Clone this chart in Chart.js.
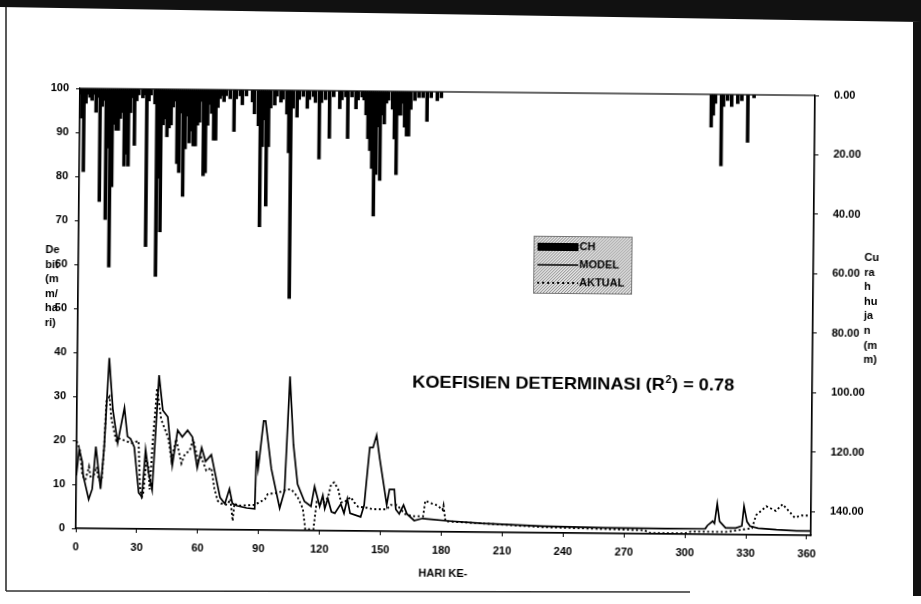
<!DOCTYPE html>
<html><head><meta charset="utf-8">
<script src="https://cdn.jsdelivr.net/npm/chart.js@4.4.1/dist/chart.umd.min.js"></script>
<style>
html,body{margin:0;padding:0;background:#fff}
#wrap{position:relative;width:921px;height:604px;overflow:hidden;background:#fff}
#c{position:absolute;left:0;top:0;transform:rotate(0.55deg)}
#frame{position:absolute;left:0;top:0}
</style></head><body>
<div id="wrap">
<canvas id="c" width="921" height="604"></canvas>
<svg id="frame" width="921" height="604">
  <polygon points="0,0 921,0 921,22 0,7" fill="#111"/>
  <line x1="6" y1="7" x2="6" y2="591" stroke="#222" stroke-width="1.5"/>
  <line x1="6" y1="591" x2="690" y2="592" stroke="#333" stroke-width="1.5"/>
  <rect x="913" y="22" width="8" height="574" fill="#111"/>
</svg>
</div>
<script>
// Curah hujan (CH), hari ke- / mm
const chDay = [0,1,2,3,4,5,6,7,8,9, 10,11,12,13,14,15,16,17,18,19, 20,21,22,23,24,25,26,27,28,29,
  31,32,33,34,35,37,38,39,40,41, 42,43,44,45,46,47,48,49,50,51, 52,53,54,55,56,57,58,59,60,61,
  62,63,64,65,66,67,68,69,70,71, 72,74,76,77,79,80,82,85,86,88, 89,90,91,92,93,94,96,97,99,100,
  102,103,104,105,107,108,110,112,113,115, 116,118,119,121,123,125,128,129,131,132,
  134,136,137,139,140,141,142,143,144,145, 146,147,148,149,150,151,152,154,155,156,
  157,158,159,160,161,162,163,165,167,169, 171,173,176,178,311,312,313,316,317,319,
  321,324,326,329,332];
const chMm = [2,10,28,5,2,3,4,2,8,3, 38,6,4,44,20,60,33,12,14,14, 10,8,26,22,26,8,3,19,4,2,
  3,2,53,4,2,5,63,30,48,12, 10,16,13,12,6,4,25,28,8,36, 20,9,18,14,19,19,12,11,4,29,
  28,12,5,8,17,17,6,3,2,4, 2,3,14,3,2,5,2,4,8,12, 46,19,10,39,19,6,5,2,4,3,
  8,21,70,6,9,3,2,6,3,2, 4,23,4,3,16,2,6,3,2,16,
  2,6,3,2,3,8,16,20,26,42, 28,12,30,8,11,4,3,6,16,28,
  8,8,4,12,15,15,6,3,2,2, 10,2,3,2,11,7,3,24,4,2,
  4,3,2,16,1];

// Debit MODEL (mm/hari)
const modelDay = [0,1.3,2.9,3.4,6.2,7.9,9.5,12,13.6,15.7, 17.7,20.2,23.4,25,26.5,28.4,30.8,32.4,34,35.6,
  37.4,40.3,42.3,44.8,47.2,49.7,52,54.6,57,59.5, 61.6,63.6,66.4,68.4,70.9,73.3,75.5,77,79,84,
  88,88.7,89.5,90,92,93,96,100.3,102.6,104.8, 106.8,109,112.5,115.7,117.4,120,121.5,122.5,124,125.8,
  127.5,130.4,132,133.6,135,140.2,141.9,144.4,146,147.7, 149.4,151.8,153,154.3,156.7,157.5,159.2,161.3,163,166.6,
  170.7,175,183,200,230,260,290,310,311,313.6, 314.5,315.8,317,320,325,328,329,330.5,332,336,
  345,355,362];
const modelVal = [12,18,15,12,6.6,9,18.6,9,18.6,38.8, 27,19.5,27.5,21,20.5,18.6,8.2,7.3,18,12.7,
  8.9,35,27,25.5,14.5,22.5,21,22.5,21,14, 18.6,15.5,17,12.7,7.3,5.9,9.3,6,5.5,5,
  4.8,18,14,16,24.8,24.8,14,5,8.9,35, 19.5,10.5,6.6,5.5,10,5.5,8,5,7.3,4.3,
  4,6.1,4,7.3,4,3.2,5.9,19,19,21.8, 16.4,9.5,6,9.5,9.5,5,4,6,4,2.5,
  3,2.8,2.5,2,1.5,1.3,1.2,1.3,2,3, 2.5,7,3,1.5,1.5,2,6.5,3,2,1.5,
  1.2,1,1];

// Debit AKTUAL (mm/hari)
const aktualDay = [0,1.6,3,4.5,6.2,7,8.5,10,11,12.5, 13.5,14.5,16,17,18.5,19.5,21,24,27,30.5,
  31.4,32.3,33,34.5,35.5,36.2,37.5,39.4,41.5,43.6, 45.2,46.8,49,51.7,53.3,55.8,57.4,59.9,61.5,64,
  66.5,68,69.7,71.3,74.6,76,77.2,78,80,88, 91,93,94.4,99.3,104,106,109,111.7,113,117,
  118.5,121,124,125.5,127,129,130.5,132,135.3,137, 139,143.5,146,153,155,158,160,162,165.5,171,
  172,174.7,178,180.5,181,182,200,230,260,280, 283,300,303,320,333,335,340,344.7,348,351,
  354,357.5,362];
const aktualVal = [19.8,18,12,11,14,11.8,12,14,11,11, 18,29,30,25,22,20,20.5,20,19.5,20,
  9.5,7.3,8,15.7,14,9,20,32,25,22.5, 20.5,15.7,20.5,15,17,18,20.5,15.7,16.4,13.4,
  14,9.5,6.6,6,5.7,7,2,6,5.5,5.7, 6.5,7,8.2,8.5,9.3,9.3,7.7,5,0.3,0.3,
  6.5,6,7.5,10.5,11,9.5,6.5,6.5,7.7,6.5, 5.5,5.3,5,5,6,6,5,4,3.5,3.5,
  7,6.5,6,5,6,2.4,2,1.3,1,0.8, 0.2,0.2,0.6,0.6,1.5,4.5,6.5,5.5,7,5.5,
  4,4.5,4.5];

const xTicks = [0,30,60,90,120,150,180,210,240,270,300,330,360];
const debitTicks = [0,10,20,30,40,50,60,70,80,90,100];
const chTicks = [0,20,40,60,80,100,120,140];
const leftTitle = ['De','bit','(m','m/','ha','ri)'];
const rightTitle = ['Cu','ra','h','hu','ja','n','(m','m)'];

const FONT = '"Liberation Sans", Arial, sans-serif';
const pts = (xs, ys) => xs.map((x, i) => ({x, y: ys[i]}));

function stipple(ctx) {
  const p = document.createElement('canvas'); p.width = 3; p.height = 3;
  const c = p.getContext('2d');
  c.fillStyle = '#e4e4e4'; c.fillRect(0, 0, 3, 3);
  c.fillStyle = '#8a8a8a'; c.fillRect(0, 0, 1, 1); c.fillRect(2, 1, 1, 1); c.fillRect(1, 2, 1, 1);
  return ctx.createPattern(p, 'repeat');
}

const extras = {
  id: 'extras',
  afterDraw(chart) {
    const {ctx, chartArea: a} = chart;
    ctx.save();
    ctx.strokeStyle = '#000'; ctx.lineWidth = 1.2;
    ctx.strokeRect(a.left, a.top, a.right - a.left, a.bottom - a.top);

    ctx.fillStyle = '#000';
    ctx.font = 'bold 11px ' + FONT;
    ctx.textBaseline = 'middle'; ctx.textAlign = 'left';
    leftTitle.forEach((t, i) => ctx.fillText(t, 45, 254 + i * 14.6));
    rightTitle.forEach((t, i) => ctx.fillText(t, 864, 254 + i * 14.6));

    // R2 annotation, stretched to the scanned width
    const s1 = 'KOEFISIEN DETERMINASI (R', s3 = ') = 0.78';
    ctx.font = 'bold 17px ' + FONT;
    const w1 = ctx.measureText(s1).width, w3 = ctx.measureText(s3).width;
    ctx.font = 'bold 10px ' + FONT;
    const w2 = ctx.measureText('2').width + 1;
    const sx = 322 / (w1 + w2 + w3);
    ctx.save();
    ctx.translate(413, 388); ctx.scale(sx, 1);
    ctx.textBaseline = 'alphabetic';
    ctx.font = 'bold 17px ' + FONT;
    ctx.fillText(s1, 0, 0);
    ctx.font = 'bold 10px ' + FONT;
    ctx.fillText('2', w1 + 0.5, -7);
    ctx.font = 'bold 17px ' + FONT;
    ctx.fillText(s3, w1 + w2, 0);
    ctx.restore();

    // legend box
    ctx.fillStyle = stipple(ctx);
    ctx.fillRect(533, 235, 98, 57);
    ctx.strokeStyle = '#777'; ctx.lineWidth = 1;
    ctx.strokeRect(533.5, 235.5, 98, 57);
    ctx.fillStyle = '#000';
    ctx.fillRect(537, 242, 41, 8);
    ctx.strokeStyle = '#000'; ctx.lineWidth = 1.4;
    ctx.beginPath(); ctx.moveTo(537, 264); ctx.lineTo(578, 264); ctx.stroke();
    ctx.setLineDash([2, 3]); ctx.lineWidth = 2;
    ctx.beginPath(); ctx.moveTo(537, 282); ctx.lineTo(578, 282); ctx.stroke();
    ctx.setLineDash([]);
    ctx.font = 'bold 11px ' + FONT; ctx.textBaseline = 'middle';
    ctx.fillText('CH', 579, 246);
    ctx.fillText('MODEL', 579, 264);
    ctx.fillText('AKTUAL', 579, 282);
    ctx.restore();
  }
};

const tickFont = {family: FONT, size: 11, weight: 'bold'};
new Chart(document.getElementById('c'), {
  type: 'line',
  data: {
    datasets: [
      {type: 'bar', label: 'CH', data: pts(chDay, chMm), yAxisID: 'y2',
       backgroundColor: '#000', barThickness: 2.9, order: 3},
      {label: 'MODEL', data: pts(modelDay, modelVal), yAxisID: 'y', borderColor: '#000',
       borderWidth: 1.7, pointRadius: 0, tension: 0, order: 1},
      {label: 'AKTUAL', data: pts(aktualDay, aktualVal), yAxisID: 'y', borderColor: '#000',
       borderWidth: 1.9, borderDash: [2, 2.5], pointRadius: 0, tension: 0, order: 2}
    ]
  },
  options: {
    responsive: false, animation: false, devicePixelRatio: 1,
    layout: {padding: {left: 40, right: 48, top: 92, bottom: 12}},
    plugins: {legend: {display: false}, tooltip: {enabled: false}},
    scales: {
      x: {type: 'linear', min: 0, max: 362, position: 'bottom', offset: false,
        afterBuildTicks: s => { s.ticks = xTicks.map(v => ({value: v})) },
        afterFit: s => { s.height = 60 },
        ticks: {color: '#000', font: tickFont, padding: 8, maxRotation: 0, autoSkip: false},
        grid: {display: true, offset: false, drawOnChartArea: false, tickLength: 4, color: '#000'},
        border: {color: '#000', width: 1.2},
        title: {display: true, text: 'HARI KE-', color: '#000',
          font: {family: FONT, size: 11, weight: 'bold'}, padding: {top: 0, bottom: 11}}},
      y: {min: 0, max: 100, position: 'left',
        afterBuildTicks: s => { s.ticks = debitTicks.map(v => ({value: v})) },
        afterFit: s => { s.width = 38 },
        ticks: {color: '#000', font: tickFont, padding: 7},
        grid: {display: true, drawOnChartArea: false, tickLength: 4, color: '#000'},
        border: {color: '#000', width: 1.2}},
      y2: {min: 0, max: 148, reverse: true, position: 'right',
        afterBuildTicks: s => { s.ticks = chTicks.map(v => ({value: v})) },
        afterFit: s => { s.width = 60 },
        ticks: {color: '#000', font: tickFont, padding: 15, callback: v => v.toFixed(2)},
        grid: {display: true, drawOnChartArea: false, tickLength: 4, color: '#000'},
        border: {color: '#000', width: 1.2}}
    }
  },
  plugins: [extras]
});
</script>
</body></html>
